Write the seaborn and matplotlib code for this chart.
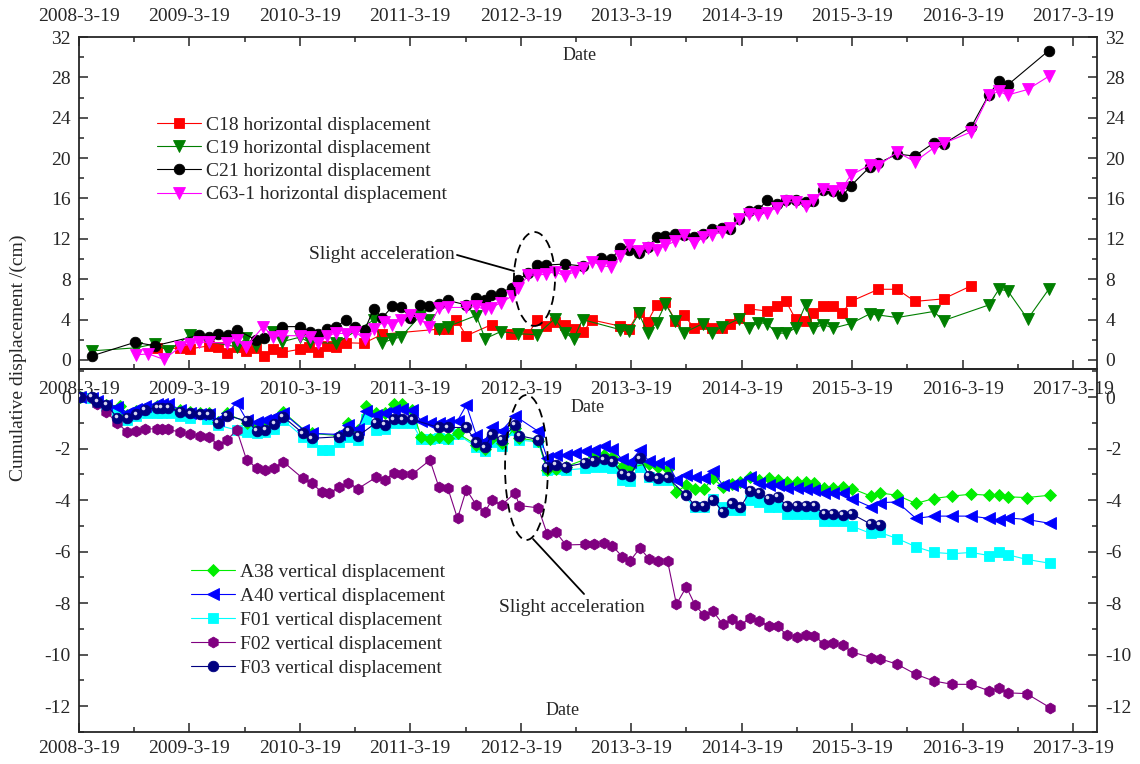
import datetime as dt
import numpy as np
import pandas as pd
import matplotlib
matplotlib.use("Agg")
import matplotlib.pyplot as plt
import matplotlib.dates as mdates
import seaborn as sns
from matplotlib.patches import Ellipse
from matplotlib.transforms import ScaledTranslation
from matplotlib.ticker import FixedLocator, FixedFormatter, MultipleLocator

sns.set_style("ticks")
plt.rcParams["font.family"] = ["Liberation Serif", "DejaVu Serif"]
plt.rcParams["axes.unicode_minus"] = False

# ---------------- data (decimal year, cm) ----------------
tick_labels = ["2008-3-19", "2009-3-19", "2010-3-19", "2011-3-19", "2012-3-19",
               "2013-3-19", "2014-3-19", "2015-3-19", "2016-3-19", "2017-3-19"]
x_start = "2008-3-19"
x_end = "2017-6-6"

C18 = [(2008.92, 1.15), (2009.13, 1.15), (2009.22, 1.1), (2009.39, 1.4), (2009.47, 1.25),
       (2009.55, 0.65), (2009.64, 1.25), (2009.72, 0.9), (2009.81, 1.15), (2009.89, 0.35),
       (2009.97, 1.1), (2010.05, 0.75), (2010.21, 1.05), (2010.29, 1.3), (2010.38, 0.8),
       (2010.46, 1.4), (2010.54, 1.25), (2010.63, 1.7), (2010.79, 1.65), (2010.96, 2.55),
       (2011.47, 3.05), (2011.55, 3.1), (2011.63, 3.95), (2011.72, 2.4), (2011.95, 3.5),
       (2012.12, 2.55), (2012.28, 2.55), (2012.36, 4.0), (2012.44, 3.4), (2012.52, 3.8),
       (2012.61, 3.45), (2012.70, 3.1), (2012.77, 2.75), (2012.86, 3.95), (2013.11, 3.35),
       (2013.19, 3.1), (2013.28, 4.75), (2013.36, 3.8), (2013.44, 5.45), (2013.52, 5.7),
       (2013.61, 3.9), (2013.69, 4.45), (2013.78, 3.15), (2013.86, 3.6), (2013.94, 3.2),
       (2014.03, 3.15), (2014.11, 3.6), (2014.19, 4.2), (2014.28, 5.05), (2014.44, 4.85),
       (2014.53, 5.3), (2014.61, 5.85), (2014.70, 4.05), (2014.79, 3.85), (2014.86, 4.6),
       (2014.95, 5.3), (2015.04, 5.35), (2015.12, 4.6), (2015.20, 5.8), (2015.45, 7.0),
       (2015.62, 7.0), (2015.78, 5.8), (2016.04, 6.05), (2016.29, 7.35)]

C19 = [(2008.33, 0.9), (2008.73, 1.2), (2008.90, 1.6), (2009.02, 0.9), (2009.22, 2.5),
       (2009.39, 1.8), (2009.64, 1.3), (2009.72, 2.15), (2009.81, 1.4), (2009.97, 2.8),
       (2010.05, 1.8), (2010.21, 2.25), (2010.30, 1.75), (2010.54, 1.65), (2010.88, 3.95),
       (2010.96, 1.7), (2011.05, 2.05), (2011.13, 2.3), (2011.30, 4.35), (2011.38, 3.95),
       (2011.47, 3.05), (2011.55, 3.3), (2011.81, 4.4), (2011.89, 2.1), (2012.03, 2.8),
       (2012.19, 2.6), (2012.36, 2.5), (2012.52, 4.1), (2012.61, 2.7), (2012.69, 2.1),
       (2012.77, 4.0), (2013.11, 3.0), (2013.19, 2.9), (2013.28, 4.6), (2013.36, 2.7),
       (2013.44, 3.7), (2013.52, 5.55), (2013.61, 3.9), (2013.69, 2.7), (2013.86, 3.6),
       (2013.94, 2.65), (2014.03, 3.25), (2014.19, 4.1), (2014.28, 3.15), (2014.36, 3.7),
       (2014.44, 3.6), (2014.53, 2.65), (2014.61, 2.65), (2014.70, 3.15), (2014.79, 5.45),
       (2014.86, 3.15), (2014.95, 3.5), (2015.04, 3.15), (2015.20, 3.6), (2015.37, 4.55),
       (2015.45, 4.45), (2015.62, 4.2), (2015.95, 4.8), (2016.04, 3.9), (2016.45, 5.45),
       (2016.54, 7.0), (2016.62, 6.85), (2016.80, 4.05), (2016.99, 7.0)]

C21 = [(2008.33, 0.4), (2008.72, 1.75), (2008.90, 1.4), (2009.30, 2.45), (2009.39, 2.25),
       (2009.47, 2.6), (2009.56, 2.5), (2009.64, 3.0), (2009.81, 2.0), (2009.89, 2.15),
       (2010.05, 3.3), (2010.21, 3.3), (2010.30, 2.8), (2010.38, 2.55), (2010.46, 3.1),
       (2010.54, 3.3), (2010.63, 3.95), (2010.71, 3.25), (2010.80, 3.0), (2010.88, 5.05),
       (2010.96, 4.2), (2011.05, 5.3), (2011.13, 5.2), (2011.21, 4.2), (2011.30, 5.45),
       (2011.38, 5.35), (2011.47, 5.55), (2011.55, 5.9), (2011.72, 5.45), (2011.81, 6.15),
       (2011.89, 5.9), (2011.94, 6.45), (2012.03, 6.65), (2012.13, 7.15), (2012.19, 7.95),
       (2012.28, 8.6), (2012.36, 9.4), (2012.44, 9.4), (2012.61, 9.5), (2012.77, 9.3),
       (2012.94, 10.1), (2013.03, 10.0), (2013.11, 11.05), (2013.19, 10.9), (2013.28, 10.6),
       (2013.36, 11.2), (2013.44, 12.15), (2013.52, 12.3), (2013.61, 12.45), (2013.69, 12.4),
       (2013.78, 12.15), (2013.86, 12.5), (2013.94, 13.0), (2014.03, 13.1), (2014.11, 13.0),
       (2014.19, 14.0), (2014.28, 14.8), (2014.36, 14.85), (2014.44, 15.8), (2014.53, 15.5),
       (2014.61, 15.85), (2014.70, 15.8), (2014.79, 15.6), (2014.86, 15.75), (2014.95, 16.85),
       (2015.04, 16.7), (2015.12, 16.2), (2015.20, 17.25), (2015.37, 19.1), (2015.45, 19.5),
       (2015.62, 20.4), (2015.78, 20.2), (2015.95, 21.5), (2016.04, 21.4), (2016.29, 23.1),
       (2016.45, 26.3), (2016.54, 27.6), (2016.62, 27.25), (2016.99, 30.65)]

C63_1 = [(2008.73, 0.5), (2008.84, 0.6), (2008.98, 0.05), (2009.13, 1.3), (2009.22, 1.6),
         (2009.30, 1.75), (2009.39, 1.75), (2009.55, 1.65), (2009.64, 2.0), (2009.72, 1.25),
         (2009.88, 3.3), (2009.97, 2.3), (2010.05, 2.4), (2010.21, 2.4), (2010.30, 2.25),
         (2010.38, 1.7), (2010.46, 2.4), (2010.54, 2.65), (2010.63, 2.6), (2010.71, 2.8),
         (2010.80, 2.05), (2010.88, 3.05), (2010.97, 3.8), (2011.05, 3.45), (2011.13, 4.0),
         (2011.21, 4.45), (2011.30, 4.1), (2011.38, 3.3), (2011.47, 5.1), (2011.55, 5.2),
         (2011.72, 5.2), (2011.81, 5.3), (2011.89, 5.0), (2011.94, 5.15), (2012.03, 5.65),
         (2012.13, 6.3), (2012.19, 7.15), (2012.28, 8.4), (2012.36, 8.4), (2012.44, 8.5),
         (2012.52, 8.75), (2012.61, 8.3), (2012.70, 8.75), (2012.77, 9.1), (2012.86, 9.75),
         (2012.94, 9.35), (2013.03, 9.2), (2013.11, 10.25), (2013.19, 11.4), (2013.28, 10.8),
         (2013.36, 11.1), (2013.44, 10.9), (2013.52, 11.35), (2013.61, 11.75), (2013.69, 12.4),
         (2013.78, 11.55), (2013.86, 12.15), (2013.94, 12.4), (2014.03, 12.65), (2014.11, 13.1),
         (2014.19, 14.0), (2014.28, 14.5), (2014.36, 14.35), (2014.44, 14.6), (2014.53, 15.1),
         (2014.61, 15.75), (2014.70, 15.6), (2014.79, 15.25), (2014.86, 15.85), (2014.95, 16.9),
         (2015.04, 16.7), (2015.12, 17.0), (2015.20, 18.3), (2015.37, 19.3), (2015.45, 19.25),
         (2015.62, 20.6), (2015.78, 19.65), (2015.95, 21.0), (2016.04, 21.45), (2016.29, 22.6),
         (2016.45, 26.25), (2016.54, 26.6), (2016.62, 26.25), (2016.80, 26.8), (2016.99, 28.1)]

A38 = [(2008.22, 0.0), (2008.33, -0.05), (2008.38, -0.15), (2008.46, -0.3), (2008.58, -0.35),
       (2008.65, -0.7), (2008.73, -0.55), (2008.81, -0.45), (2008.92, -0.35), (2008.96, -0.35),
       (2009.02, -0.35), (2009.13, -0.5), (2009.22, -0.58), (2009.31, -0.6), (2009.39, -0.6),
       (2009.47, -0.95), (2009.55, -0.63), (2009.73, -1.0), (2009.82, -1.1), (2009.90, -1.05),
       (2009.98, -0.9), (2010.06, -0.57), (2010.27, -1.35), (2010.32, -1.41), (2010.57, -1.5),
       (2010.65, -1.02), (2010.74, -1.26), (2010.81, -0.35), (2010.90, -0.63), (2010.98, -0.63),
       (2011.06, -0.25), (2011.14, -0.25), (2011.23, -0.5), (2011.31, -1.54), (2011.39, -1.64),
       (2011.47, -1.54), (2011.55, -1.6), (2011.64, -1.41), (2011.81, -1.85), (2011.89, -2.0),
       (2011.95, -1.6), (2012.04, -1.8), (2012.16, -1.2), (2012.20, -1.6), (2012.37, -1.7),
       (2012.45, -2.83), (2012.53, -2.81), (2012.62, -2.7), (2012.87, -2.29), (2012.96, -2.25),
       (2013.04, -2.34), (2013.13, -2.7), (2013.20, -2.73), (2013.37, -2.58), (2013.45, -2.73),
       (2013.54, -2.81), (2013.62, -3.68), (2013.71, -3.42), (2013.79, -3.55), (2013.87, -3.55),
       (2013.95, -3.16), (2014.04, -3.48), (2014.12, -3.38), (2014.20, -3.29), (2014.29, -3.12),
       (2014.37, -3.22), (2014.46, -3.16), (2014.54, -3.22), (2014.62, -3.29), (2014.71, -3.29),
       (2014.79, -3.29), (2014.87, -3.33), (2014.96, -3.51), (2015.04, -3.51), (2015.13, -3.48),
       (2015.21, -3.55), (2015.38, -3.84), (2015.46, -3.72), (2015.62, -3.81), (2015.79, -4.13),
       (2015.95, -3.94), (2016.12, -3.84), (2016.29, -3.77), (2016.45, -3.81), (2016.54, -3.81),
       (2016.62, -3.87), (2016.79, -3.9), (2017.00, -3.81)]

A40 = [(2008.22, 0.0), (2008.33, -0.05), (2008.38, -0.15), (2008.46, -0.3), (2008.56, -0.37),
       (2008.65, -0.6), (2008.73, -0.48), (2008.81, -0.35), (2008.92, -0.27), (2008.96, -0.25),
       (2009.02, -0.25), (2009.13, -0.5), (2009.22, -0.6), (2009.31, -0.65), (2009.39, -0.65),
       (2009.47, -0.9), (2009.55, -0.62), (2009.64, -0.22), (2009.73, -0.89), (2009.82, -0.96),
       (2009.90, -0.89), (2009.98, -0.76), (2010.06, -0.61), (2010.24, -1.26), (2010.32, -1.41),
       (2010.57, -1.45), (2010.65, -1.09), (2010.74, -1.22), (2010.81, -0.53), (2010.90, -0.7),
       (2010.98, -0.61), (2011.06, -0.5), (2011.14, -0.48), (2011.23, -0.5), (2011.31, -0.92),
       (2011.39, -1.02), (2011.47, -1.02), (2011.55, -0.98), (2011.64, -0.92), (2011.72, -0.31),
       (2011.81, -1.48), (2011.89, -1.7), (2011.95, -1.15), (2012.04, -1.3), (2012.16, -0.73),
       (2012.37, -1.33), (2012.45, -2.36), (2012.53, -2.25), (2012.62, -2.25), (2012.70, -2.18),
       (2012.79, -2.1), (2012.87, -2.05), (2012.96, -1.9), (2013.04, -2.02), (2013.13, -2.42),
       (2013.20, -2.52), (2013.29, -2.06), (2013.37, -2.48), (2013.45, -2.55), (2013.54, -2.55),
       (2013.62, -3.21), (2013.71, -3.03), (2013.79, -3.12), (2013.87, -3.16), (2013.95, -2.86),
       (2014.04, -3.42), (2014.12, -3.42), (2014.20, -3.35), (2014.29, -3.12), (2014.37, -3.35),
       (2014.46, -3.42), (2014.54, -3.42), (2014.62, -3.51), (2014.71, -3.51), (2014.79, -3.55),
       (2014.87, -3.61), (2014.96, -3.74), (2015.04, -3.74), (2015.13, -3.74), (2015.21, -3.94),
       (2015.38, -4.26), (2015.46, -4.1), (2015.62, -4.07), (2015.79, -4.71), (2015.95, -4.62),
       (2016.12, -4.62), (2016.29, -4.62), (2016.45, -4.71), (2016.54, -4.78), (2016.62, -4.69),
       (2016.79, -4.75), (2017.00, -4.9)]

F01 = [(2008.22, 0.0), (2008.33, -0.05), (2008.38, -0.2), (2008.46, -0.35), (2008.56, -0.55),
       (2008.65, -0.9), (2008.73, -0.75), (2008.83, -0.61), (2008.92, -0.61), (2008.96, -0.61),
       (2009.04, -0.61), (2009.13, -0.72), (2009.22, -0.8), (2009.37, -0.87), (2009.47, -1.09),
       (2009.64, -1.28), (2009.73, -1.35), (2009.82, -1.41), (2009.90, -1.35), (2009.98, -1.22),
       (2010.06, -0.89), (2010.24, -1.54), (2010.32, -1.74), (2010.41, -2.06), (2010.48, -2.06),
       (2010.57, -1.74), (2010.65, -1.54), (2010.74, -1.67), (2010.81, -0.87), (2010.90, -1.28),
       (2010.98, -1.22), (2011.06, -1.02), (2011.14, -1.02), (2011.23, -1.02), (2011.31, -1.64),
       (2011.39, -1.64), (2011.47, -1.6), (2011.55, -1.62), (2011.64, -1.45), (2011.81, -1.93),
       (2011.89, -2.1), (2011.95, -1.74), (2012.04, -1.9), (2012.16, -1.26), (2012.20, -1.67),
       (2012.37, -1.74), (2012.45, -2.83), (2012.53, -2.81), (2012.62, -2.83), (2012.79, -2.77),
       (2012.87, -2.73), (2012.96, -2.7), (2013.04, -2.77), (2013.13, -3.2), (2013.20, -3.25),
       (2013.29, -2.7), (2013.37, -3.12), (2013.45, -3.22), (2013.54, -3.2), (2013.79, -4.28),
       (2013.87, -4.28), (2013.95, -3.94), (2014.04, -4.28), (2014.12, -4.39), (2014.20, -4.39),
       (2014.29, -4.0), (2014.37, -4.07), (2014.46, -4.28), (2014.54, -4.26), (2014.62, -4.52),
       (2014.71, -4.52), (2014.79, -4.52), (2014.87, -4.52), (2014.96, -4.8), (2015.04, -4.8),
       (2015.13, -4.8), (2015.21, -5.01), (2015.38, -5.29), (2015.46, -5.25), (2015.62, -5.49),
       (2015.79, -5.81), (2015.95, -6.03), (2016.12, -6.08), (2016.29, -6.03), (2016.45, -6.15),
       (2016.54, -6.03), (2016.62, -6.12), (2016.79, -6.3), (2017.00, -6.45)]

F02 = [(2008.22, 0.0), (2008.33, -0.05), (2008.38, -0.25), (2008.46, -0.57), (2008.56, -1.02),
       (2008.65, -1.35), (2008.73, -1.31), (2008.81, -1.25), (2008.92, -1.22), (2008.96, -1.22),
       (2009.02, -1.25), (2009.13, -1.37), (2009.22, -1.44), (2009.31, -1.51), (2009.39, -1.54),
       (2009.47, -1.86), (2009.55, -1.67), (2009.64, -1.28), (2009.73, -2.45), (2009.82, -2.74),
       (2009.90, -2.83), (2009.98, -2.74), (2010.06, -2.51), (2010.24, -3.16), (2010.32, -3.35),
       (2010.41, -3.68), (2010.48, -3.72), (2010.57, -3.48), (2010.65, -3.33), (2010.74, -3.55),
       (2010.90, -3.12), (2010.98, -3.22), (2011.06, -2.96), (2011.14, -3.0), (2011.23, -2.99),
       (2011.39, -2.45), (2011.47, -3.48), (2011.55, -3.51), (2011.64, -4.71), (2011.72, -3.59),
       (2011.81, -4.19), (2011.89, -4.45), (2011.95, -4.0), (2012.04, -4.19), (2012.16, -3.72),
       (2012.20, -4.21), (2012.37, -4.3), (2012.45, -5.3), (2012.53, -5.24), (2012.62, -5.74),
       (2012.79, -5.72), (2012.87, -5.72), (2012.96, -5.66), (2013.04, -5.77), (2013.13, -6.2),
       (2013.20, -6.36), (2013.29, -5.86), (2013.37, -6.27), (2013.45, -6.35), (2013.54, -6.36),
       (2013.62, -8.04), (2013.71, -7.37), (2013.79, -8.08), (2013.87, -8.47), (2013.95, -8.3),
       (2014.04, -8.82), (2014.12, -8.62), (2014.20, -8.85), (2014.29, -8.56), (2014.37, -8.69),
       (2014.46, -8.89), (2014.54, -8.89), (2014.62, -9.24), (2014.71, -9.31), (2014.79, -9.24),
       (2014.87, -9.28), (2014.96, -9.59), (2015.04, -9.54), (2015.13, -9.63), (2015.21, -9.89),
       (2015.38, -10.11), (2015.46, -10.15), (2015.62, -10.37), (2015.79, -10.76), (2015.95, -11.02),
       (2016.12, -11.15), (2016.29, -11.15), (2016.45, -11.4), (2016.54, -11.31), (2016.62, -11.48),
       (2016.79, -11.51), (2017.00, -12.05)]

F03 = [(2008.22, 0.0), (2008.33, 0.0), (2008.38, -0.18), (2008.46, -0.3), (2008.56, -0.8),
       (2008.65, -0.8), (2008.73, -0.67), (2008.81, -0.5), (2008.92, -0.41), (2008.96, -0.41),
       (2009.02, -0.41), (2009.13, -0.57), (2009.22, -0.63), (2009.31, -0.67), (2009.39, -0.67),
       (2009.47, -1.0), (2009.55, -0.72), (2009.73, -0.92), (2009.82, -1.32), (2009.90, -1.28),
       (2009.98, -1.05), (2010.06, -0.76), (2010.24, -1.41), (2010.32, -1.6), (2010.57, -1.54),
       (2010.65, -1.31), (2010.74, -1.51), (2010.90, -1.0), (2010.98, -1.09), (2011.06, -0.87),
       (2011.14, -0.87), (2011.23, -0.87), (2011.47, -1.18), (2011.55, -1.18), (2011.72, -1.18),
       (2011.81, -1.76), (2011.89, -1.95), (2011.95, -1.45), (2012.04, -1.65), (2012.16, -1.07),
       (2012.20, -1.5), (2012.37, -1.65), (2012.45, -2.72), (2012.53, -2.62), (2012.62, -2.7),
       (2012.79, -2.56), (2012.87, -2.48), (2012.96, -2.42), (2013.04, -2.49), (2013.13, -2.97),
       (2013.20, -3.05), (2013.29, -2.38), (2013.37, -3.05), (2013.45, -3.16), (2013.54, -3.12),
       (2013.71, -3.82), (2013.79, -4.23), (2013.87, -4.23), (2013.95, -3.99), (2014.04, -4.45),
       (2014.12, -4.13), (2014.20, -4.28), (2014.29, -3.64), (2014.37, -3.72), (2014.46, -3.94),
       (2014.54, -3.87), (2014.62, -4.23), (2014.71, -4.23), (2014.79, -4.23), (2014.87, -4.23),
       (2014.96, -4.54), (2015.04, -4.54), (2015.13, -4.58), (2015.21, -4.54), (2015.38, -4.93),
       (2015.46, -4.97)]

top_names = ["C18 horizontal displacement", "C19 horizontal displacement",
             "C21 horizontal displacement", "C63-1 horizontal displacement"]
bot_names = ["A38 vertical displacement", "A40 vertical displacement",
             "F01 vertical displacement", "F02 vertical displacement",
             "F03 vertical displacement"]


def to_dates(years):
    out = []
    for t in years:
        y = int(t)
        a = pd.Timestamp(year=y, month=1, day=1)
        b = pd.Timestamp(year=y + 1, month=1, day=1)
        out.append(a + (b - a) * (t - y))
    return pd.to_datetime(out)


def draw(ax, pts, color, marker, ms, lw=0.8, z=2, mew=0.6):
    t, v = zip(*pts)
    d = to_dates(t)
    sns.lineplot(x=d, y=list(v), ax=ax, color=color, marker=marker,
                 markersize=ms, markeredgecolor=color, markeredgewidth=mew,
                 linewidth=lw, estimator=None, sort=False, zorder=z)
    return ax.lines[-1], d, v


FS = 14
fig = plt.figure(figsize=(11.4, 7.64), dpi=100)
L, W = 79 / 1140, 1018 / 1140
ax1 = fig.add_axes([L, 1 - 369 / 764, W, 332 / 764])
ax2 = fig.add_axes([L, 1 - 732 / 764, W, 363 / 764])
for ax in (ax1, ax2):
    ax.patch.set_visible(False)

# ---- top panel ----
h18, _, _ = draw(ax1, C18, "#ff0000", "s", 7.0, z=2)
h19, _, _ = draw(ax1, C19, "#007f00", "v", 8.2, z=3)
h21, _, _ = draw(ax1, C21, "#000000", "o", 7.6, z=4)
h63, _, _ = draw(ax1, C63_1, "#ff00ff", "v", 8.2, z=5)

# ---- bottom panel ----
hF01, _, _ = draw(ax2, F01, "#00ffff", "s", 7.0, z=2)
hA38, _, _ = draw(ax2, A38, "#00ee00", "D", 6.2, z=3)
hA40, _, _ = draw(ax2, A40, "#0000ff", "<", 8.2, z=4)
hF02, _, _ = draw(ax2, F02, "#800080", "h", 7.8, z=5)
hF03, dF03, vF03 = draw(ax2, F03, "#000080", "o", 7.6, z=6)
off = ScaledTranslation(-1.2 / 72, 1.2 / 72, fig.dpi_scale_trans)
ax2.plot(dF03, vF03, linestyle="none", marker="o", markersize=2.6,
         color="#d8d8f0", markeredgewidth=0, transform=ax2.transData + off, zorder=7)

# ---- axes formatting ----
tick_dates = [dt.datetime.strptime(s, "%Y-%m-%d") for s in tick_labels]
major = mdates.date2num(tick_dates)
step = major[1] - major[0]
minor = list((major[:-1] + major[1:]) / 2) + [major[-1] + step / 2]
xlo = mdates.date2num(dt.datetime.strptime(x_start, "%Y-%m-%d"))
xhi = mdates.date2num(dt.datetime.strptime(x_end, "%Y-%m-%d"))

for ax in (ax1, ax2):
    ax.set_xlim(xlo, xhi)
    ax.xaxis.set_major_locator(FixedLocator(major))
    ax.xaxis.set_major_formatter(FixedFormatter(tick_labels))
    ax.xaxis.set_minor_locator(FixedLocator(minor))
    ax.set_xlabel("")
    ax.set_ylabel("")
    for s in ax.spines.values():
        s.set_linewidth(1.3)
        s.set_visible(True)
    ax.tick_params(which="both", direction="in", width=1.1, labelsize=FS,
                   left=True, right=True, labelleft=True, labelright=True)
    ax.tick_params(which="major", length=6.5)
    ax.tick_params(which="minor", length=3.5)
    ax.tick_params(axis="y", pad=6)

ax1.tick_params(axis="x", which="both", top=True, bottom=True,
                labeltop=True, labelbottom=True, pad=8.5)
ax2.tick_params(axis="x", which="both", top=False, bottom=True,
                labeltop=False, labelbottom=True, pad=6)

ax1.set_ylim(-0.9, 32)
ax1.yaxis.set_major_locator(MultipleLocator(4))
ax1.yaxis.set_minor_locator(MultipleLocator(2))
ax2.set_ylim(-13, 1.09)
ax2.set_yticks(np.arange(0, -13, -2))
ax2.yaxis.set_minor_locator(MultipleLocator(1))

# ---- legends ----
lg1 = ax1.legend([h18, h19, h21, h63], top_names, loc="upper left",
                 bbox_to_anchor=(0.0766, 0.762), frameon=False, fontsize=FS,
                 handlelength=2.27, handletextpad=0.26, labelspacing=0.29,
                 borderpad=0, borderaxespad=0)
lg2 = ax2.legend([hA38, hA40, hF01, hF02, hF03], bot_names, loc="upper left",
                 bbox_to_anchor=(0.110, 0.4646), frameon=False, fontsize=FS,
                 handlelength=2.27, handletextpad=0.26, labelspacing=0.33,
                 borderpad=0, borderaxespad=0)

# ---- text, annotations ----
ax1.text(0.4921, 0.9428, "Date", transform=ax1.transAxes, ha="center", va="center", fontsize=FS - 1)
ax2.text(0.500, 0.8953, "Date", transform=ax2.transAxes, ha="center", va="center", fontsize=FS - 1)
ax2.text(0.4754, 0.0606, "Date", transform=ax2.transAxes, ha="center", va="center", fontsize=FS - 1)

ax1.text(0.2974, 0.3434, "Slight acceleration", transform=ax1.transAxes,
         ha="center", va="center", fontsize=FS)
ax1.plot([0.3713, 0.4273], [0.3434, 0.2952], transform=ax1.transAxes, color="black", lw=1.3)
ax1.add_patch(Ellipse((0.4474, 0.2711), 0.0403, 0.283, transform=ax1.transAxes,
                      fill=False, ls=(0, (5, 3)), lw=1.3, ec="black", zorder=8))

ax2.text(0.4843, 0.3416, "Slight acceleration", transform=ax2.transAxes,
         ha="center", va="center", fontsize=FS)
ax2.plot([0.446, 0.4961], [0.5317, 0.3802], transform=ax2.transAxes, color="black", lw=1.3)
ax2.add_patch(Ellipse((0.4396, 0.7287), 0.0422, 0.3994, transform=ax2.transAxes,
                      fill=False, ls=(0, (5, 3)), lw=1.3, ec="black", zorder=8))

fig.text(18 / 1140, 1 - 358 / 764, "Cumulative displacement /(cm)", rotation=90,
         ha="center", va="center", fontsize=FS)

fig.savefig("out.png", dpi=100)
